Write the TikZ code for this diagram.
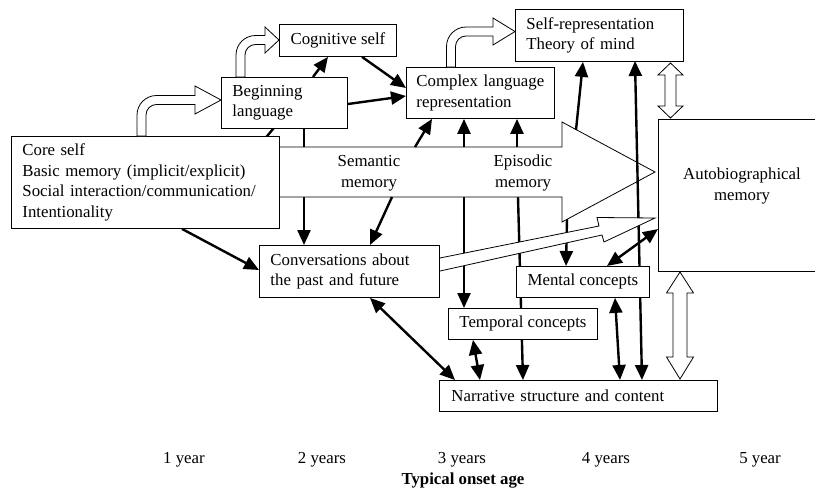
\documentclass[tikz,border=0pt]{standalone}
\usepackage{fontspec}
\setmainfont{Liberation Serif}
\usetikzlibrary{arrows.meta}
\newcommand\diagfont{\fontsize{16.8pt}{20.5pt}\selectfont}
\begin{document}
\begin{tikzpicture}[x=1pt,y=-1pt,
  box/.style={draw, line width=0.9pt, fill=white, anchor=north west, inner ysep=0pt, font=\diagfont},
  arr/.style={line width=2.4pt, -{Triangle[length=15pt,width=13pt]}},
  darr/.style={line width=2.4pt, {Triangle[length=15pt,width=13pt]}-{Triangle[length=15pt,width=13pt]}},
  plainline/.style={line width=2.4pt},
  hollow/.style={draw, line width=0.8pt, fill=white, line join=miter},
  lbl/.style={font=\diagfont, inner sep=0pt, align=center}]
\useasboundingbox (0,0) rectangle (815,490);

% helper coordinates on the big arrow edges
\coordinate (bt) at (0,147);
\coordinate (bb) at (0,197);
\coordinate (hu) at (576,130);
\coordinate (hl) at (567,219);

% boxes are placed first as empty references via named coordinates of corners
\path (11,136) coordinate (coreNW) (221,77) coordinate (beginNW);

% ---------- connectors that pass behind ----------
\draw[plainline] (264.7,139) -- (276.3,125);
\draw[arr] (304,128) -- (304,245);
\draw[arr] (464,197) -- (464,308);
\draw[arr] (518,197) -- (523,380);
\draw[arr] (hl) -- (566,266);

% ---------- big memory arrow ----------
\draw[hollow] (270,147) -- (562,147) -- (562,122) -- (655,172) -- (562,222) -- (562,197) -- (270,197) -- cycle;
\node[lbl] (sem) at (369,173) {Semantic\\memory};
\node[lbl] (epi) at (523,173) {Episodic\\memory};

% self-representation <-> narrative (in front of big arrow)
\draw[darr] (635,61) -- (642,380);

% ---------- slim hollow arrow conversations -> autobiographical ----------
\draw[hollow] (432,259.6) -- (599,226) -- (597,217.5) -- (655,218) -- (604,242) -- (602,235) -- (432,272.8) -- cycle;

% ---------- boxes ----------
\node[box, minimum width=268pt, minimum height=92pt, inner xsep=11pt, text width=246pt, align=left] (core) at (11,136)
  {Core self\\Basic memory (implicit/explicit)\\Social interaction/communication/\\Intentionality};
\node[box, minimum width=126pt, minimum height=51pt, inner xsep=11pt, text width=104pt, align=left] (begin) at (221,77)
  {Beginning\\language};
\node[box, minimum width=117pt, minimum height=32pt, align=center] (cog) at (279,24) {Cognitive self};
\node[box, minimum width=148pt, minimum height=51pt, inner xsep=10pt, text width=128pt, align=left] (complex) at (406,67)
  {\mbox{Complex language}\\representation};
\node[box, minimum width=168pt, minimum height=52pt, inner xsep=11pt, text width=146pt, align=left] (selfrep) at (515,9)
  {Self-representation\\Theory of mind};
\node[box, minimum width=168pt, minimum height=152pt] (autobio) at (658,119) {};
\node[lbl] (autotext) at (742,186) {Autobiographical\\memory};
\node[box, minimum width=180pt, minimum height=52pt, inner xsep=11pt, text width=158pt, align=left] (conv) at (259,245)
  {Conversations about\\the past and future};
\node[box, minimum width=133pt, minimum height=31pt, align=center] (mental) at (516,266) {Mental concepts};
\node[box, minimum width=149pt, minimum height=31pt, align=center] (temporal) at (448,308) {Temporal concepts};
\node[box, minimum width=278pt, minimum height=31pt, inner xsep=12pt, text width=254pt, align=left] (narrative) at (439,380)
  {Narrative structure and content};

% ---------- connectors in front ----------
\draw[arr] (313,0 |- begin.north) -- (328,0 |- cog.south);
\draw[arr] (362,0 |- cog.south) -- (complex.west |- 0,88);
\draw[arr] (begin.east |- 0,104) -- (complex.west |- 0,96);
\draw[arr] (392,0 |- bb) -- (370,0 |- conv.north);
\draw[arr] (182,0 |- core.south) -- (conv.west |- 0,270);
\draw[arr] (415,0 |- bt) -- (432,0 |- complex.south);
\draw[arr] (464,0 |- bt) -- (464,0 |- complex.south);
\draw[arr] (517,0 |- bt) -- (517,0 |- complex.south);
\draw[arr] (hu) -- (583,0 |- selfrep.south);
\draw[darr] (607,0 |- mental.north) -- (autobio.west |- 0,229);
\draw[darr] (615,0 |- mental.south) -- (620,0 |- narrative.north);
\draw[darr] (473,0 |- temporal.south) -- (480,0 |- narrative.north);
\draw[darr] (370,0 |- conv.south) -- (455,0 |- narrative.north);

% ---------- hollow curved arrows ----------
\draw[hollow] (146,136) -- (146,115) .. controls (146,109.2) and (150.7,104.5) .. (156.5,104.5)
  -- (195,104.5) -- (195,114) -- (221,100) -- (195,86) -- (195,95.5) -- (156.5,95.5)
  .. controls (145.73,95.5) and (137,104.23) .. (137,115) -- (137,136) -- cycle;
\draw[hollow] (245,77) -- (245,55) .. controls (245,49.2) and (249.7,44.5) .. (255.5,44.5)
  -- (265,44.5) -- (265,53) -- (279,40) -- (265,27) -- (265,35.5) -- (255.5,35.5)
  .. controls (244.73,35.5) and (236,44.23) .. (236,55) -- (236,77) -- cycle;
\draw[hollow] (455.5,67) -- (455.5,46.5) .. controls (455.5,40.7) and (460.2,36) .. (466,36)
  -- (493,36) -- (493,45) -- (515,31.5) -- (493,18) -- (493,27) -- (466,27)
  .. controls (455.23,27) and (446.5,35.73) .. (446.5,46.5) -- (446.5,67) -- cycle;

% ---------- hollow double arrows ----------
\draw[hollow] (670.5,63) -- (683,75) -- (676,75) -- (676,106) -- (683,106) -- (670.5,118)
  -- (658,106) -- (665,106) -- (665,75) -- (658,75) -- cycle;
\draw[hollow] (680,272) -- (693.5,293) -- (687,293) -- (687,357) -- (693.5,357) -- (680,379)
  -- (666.5,357) -- (673,357) -- (673,293) -- (666.5,293) -- cycle;

% ---------- age axis ----------
\node[lbl] (y1) at (184,460) {1 year};
\node[lbl] (y2) at (322,460) {2 years};
\node[lbl] (y3) at (462,460) {3 years};
\node[lbl] (y4) at (606,460) {4 years};
\node[lbl] (y5) at (760,460) {5 year};
\node[lbl, font=\diagfont\bfseries] (axis) at (463,481) {Typical onset age};
\end{tikzpicture}
\end{document}
